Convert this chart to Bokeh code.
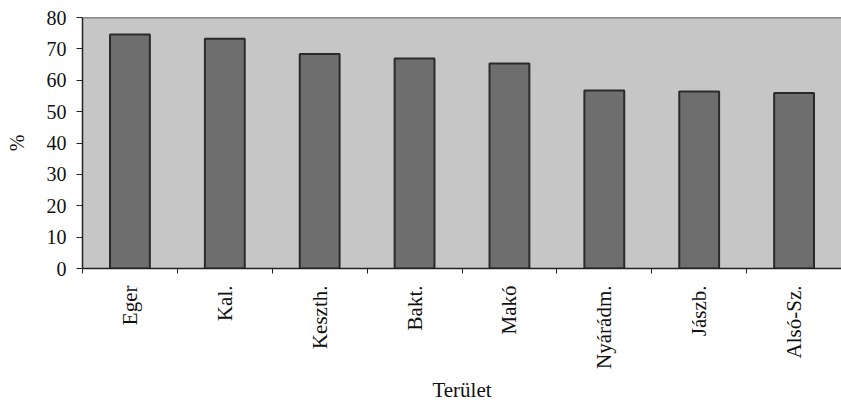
import math
from bokeh.plotting import figure
from bokeh.models import ColumnDataSource, FixedTicker, Range1d, Span
from bokeh.embed import file_html
from bokeh.resources import INLINE

categories = ["Eger", "Kal.", "Keszth.", "Bakt.", "Makó", "Nyárádm.", "Jászb.", "Alsó-Sz."]
values = [74.6, 73.2, 68.4, 66.9, 65.3, 56.7, 56.4, 55.9]
y_ticks = [0, 10, 20, 30, 40, 50, 60, 70, 80]

n = len(categories)
centers = [i + 0.5 for i in range(n)]
boundaries = list(range(n + 1))

src = ColumnDataSource(dict(x=centers, top=values, cat=categories))

p = figure(width=841, height=404, output_backend="svg", toolbar_location=None,
           x_range=Range1d(0, n), y_range=Range1d(0, 80),
           min_border_left=82, min_border_right=0, min_border_top=17, min_border_bottom=136)

p.background_fill_color = "#c6c6c6"
p.border_fill_color = "white"
p.outline_line_color = None
p.xgrid.visible = False
p.ygrid.visible = False

p.vbar(x="x", top="top", width=0.42, bottom=0, source=src,
       fill_color="#6e6e6e", line_color="#2a2a2a", line_width=2)

p.add_layout(Span(location=80, dimension="width", line_color="#333333", line_width=1.5))

font = "Liberation Serif"

xa = p.xaxis[0]
xa.ticker = FixedTicker(ticks=centers, minor_ticks=boundaries)
xa.major_label_overrides = {c: lab for c, lab in zip(centers, categories)}
xa.major_label_orientation = math.pi / 2
xa.major_tick_out = 0
xa.major_tick_in = 0
xa.minor_tick_out = 5
xa.minor_tick_in = 0
xa.minor_tick_line_color = "#222222"
xa.axis_line_color = "#222222"
xa.axis_line_width = 1.5
xa.major_label_text_font = font
xa.major_label_text_font_size = "21px"
xa.major_label_text_color = "#111111"
xa.major_label_standoff = 12
xa.axis_label = "Terület"
xa.axis_label_text_font = font
xa.axis_label_text_font_size = "21px"
xa.axis_label_text_font_style = "normal"
xa.axis_label_text_color = "#111111"
xa.axis_label_standoff = 6

ya = p.yaxis[0]
ya.ticker = FixedTicker(ticks=y_ticks)
ya.major_tick_out = 6
ya.major_tick_in = 0
ya.minor_tick_line_color = None
ya.axis_line_color = "#222222"
ya.axis_line_width = 1.5
ya.major_tick_line_color = "#222222"
ya.major_label_text_font = font
ya.major_label_text_font_size = "20px"
ya.major_label_text_color = "#111111"
ya.major_label_standoff = 10
ya.axis_label = "%"
ya.axis_label_text_font = font
ya.axis_label_text_font_size = "20px"
ya.axis_label_text_font_style = "normal"
ya.axis_label_text_color = "#111111"
ya.axis_label_standoff = 16

open("out.html", "w").write(file_html(p, INLINE))
